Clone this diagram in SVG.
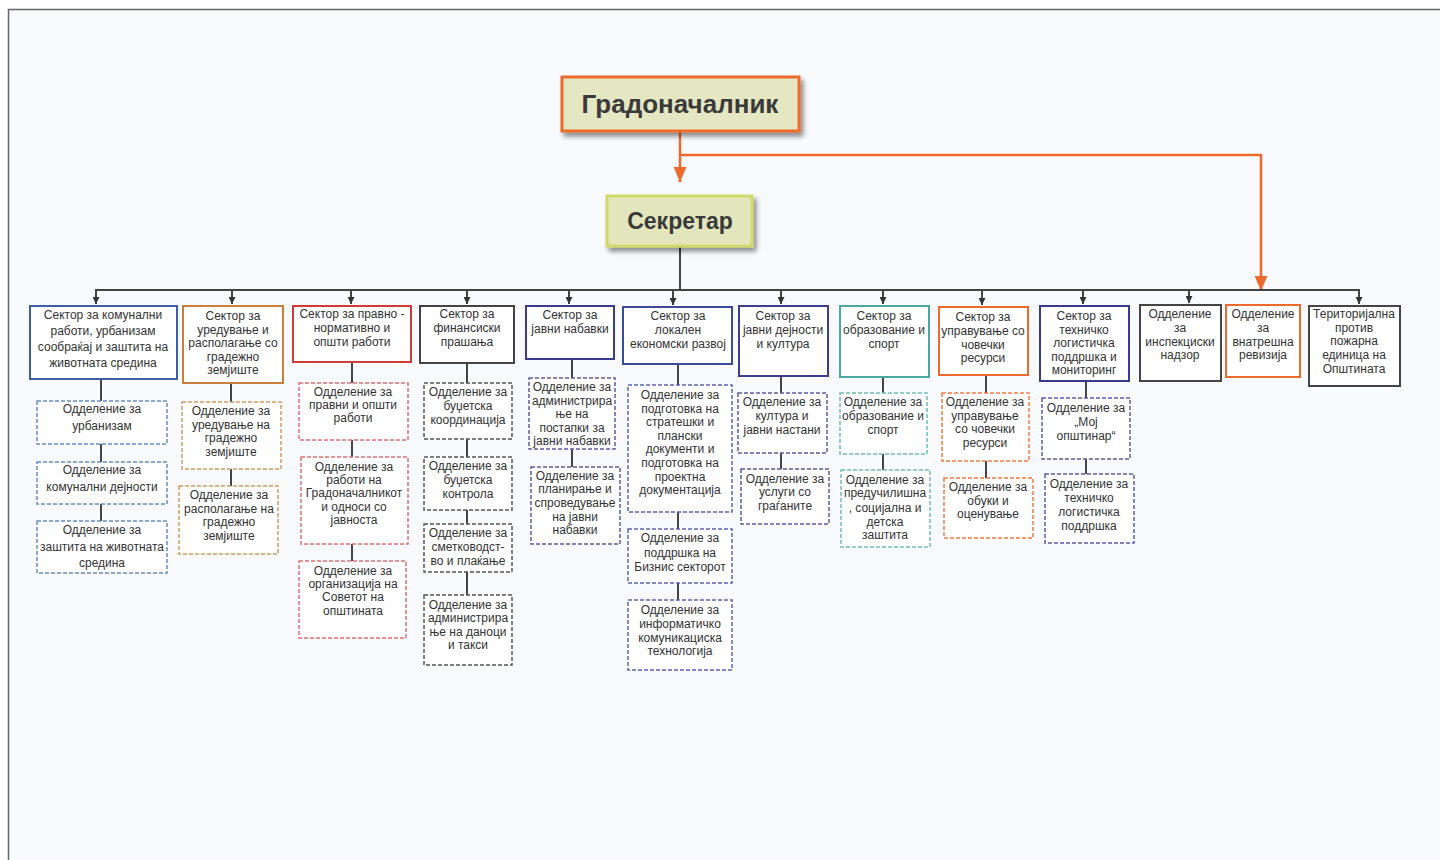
<svg xmlns="http://www.w3.org/2000/svg" width="1440" height="860" viewBox="0 0 1440 860">
<defs>
<style>
text{font-family:"Liberation Sans",Arial,sans-serif;font-size:12px;fill:#333;text-anchor:middle}
.big{font-weight:bold;fill:#3a3a3a}
.sec{fill:#fff;stroke-width:2}
.dep{fill:#fff;stroke-width:1.5;stroke-dasharray:4 2}
.ln{stroke:#444;stroke-width:2;fill:none}
.or{stroke:#ec6a2c;stroke-width:2.5;fill:none}
</style>
<marker id="ab" viewBox="0 0 10 10" refX="5" refY="10" markerWidth="7" markerHeight="7" markerUnits="userSpaceOnUse"><path d="M0,0 L10,0 L5,10 z" fill="#333"/></marker>
<marker id="ao" viewBox="0 0 12 14" refX="6" refY="14" markerWidth="13" markerHeight="15" markerUnits="userSpaceOnUse"><path d="M0,0 L12,0 L6,14 z" fill="#ec6a2c"/></marker>
<filter id="sh" x="-10%" y="-20%" width="130%" height="160%"><feGaussianBlur in="SourceAlpha" stdDeviation="2.5"/><feOffset dx="3" dy="4"/><feComponentTransfer><feFuncA type="linear" slope="0.45"/></feComponentTransfer><feMerge><feMergeNode/><feMergeNode in="SourceGraphic"/></feMerge></filter>
</defs>
<rect x="0" y="0" width="1440" height="860" fill="#fff"/>
<rect x="8.5" y="9.5" width="1440" height="860" fill="#f9fafd" stroke="#666" stroke-width="1.5"/>

<g id="connectors">
<path class="or" d="M680,131 V182"/>
<path class="or" d="M680,155 H1261 V290"/>
<path class="or" d="M680,180 V182" marker-end="url(#ao)"/>
<path class="or" d="M1261,288 V291" marker-end="url(#ao)"/>
<path class="ln" d="M680,246 V290 M95,290 H1360"/>
<g class="ln" marker-end="url(#ab)">
<path d="M96,290 V304"/><path d="M232,290 V304"/><path d="M351,290 V304"/><path d="M467,290 V304"/><path d="M569,290 V304"/><path d="M673,290 V305"/><path d="M781,290 V304"/><path d="M883,290 V304"/><path d="M982,290 V305"/><path d="M1083,290 V304"/><path d="M1189,290 V303"/><path d="M1359,290 V304"/>
</g>
<path class="ln" d="M101,379 V401 M101,444 V462 M101,504 V521"/>
<path class="ln" d="M231,383 V402 M231,469 V486"/>
<path class="ln" d="M352,362 V383 M352,440 V457 M352,544 V561"/>
<path class="ln" d="M467,363 V383 M467,439 V457 M467,510 V524 M467,572 V595"/>
<path class="ln" d="M572,359 V378 M572,449 V467"/>
<path class="ln" d="M678,364 V385 M678,512 V529 M678,583 V600"/>
<path class="ln" d="M781,376 V393 M781,453 V469"/>
<path class="ln" d="M883,377 V393 M883,454 V470"/>
<path class="ln" d="M986,375 V393 M986,461 V478"/>
<path class="ln" d="M1086,381 V398 M1086,459 V474"/>
</g>

<g id="gradonacalnik"><rect x="562" y="77" width="237" height="54" fill="#e5e6c2" stroke="#ec6a2c" stroke-width="3" filter="url(#sh)"/><text class="big" x="680" y="113" style="font-size:26px">Градоначалник</text></g>
<g id="sekretar"><rect x="607" y="196" width="145" height="50" fill="#e3e6bd" stroke="#cfd96a" stroke-width="3" filter="url(#sh)"/><text class="big" x="680" y="229" style="font-size:23px">Секретар</text></g>

<g id="s1"><rect class="sec" x="30" y="306" width="147" height="73" stroke="#3d5fa8"/><text><tspan x="103" y="319">Сектор за комунални</tspan><tspan x="103" y="335">работи, урбанизам</tspan><tspan x="103" y="351">сообраќај и заштита на</tspan><tspan x="103" y="367">животната средина</tspan></text></g>
<g id="s2"><rect class="sec" x="183" y="306" width="100" height="77" stroke="#c9803f"/><text><tspan x="233" y="320">Сектор за</tspan><tspan x="233" y="333.5">уредување и</tspan><tspan x="233" y="347">располагање со</tspan><tspan x="233" y="360.5">градежно</tspan><tspan x="233" y="374">земјиште</tspan></text></g>
<g id="s3"><rect class="sec" x="293" y="306" width="118" height="56" stroke="#d03a3a"/><text><tspan x="352" y="318">Сектор за правно -</tspan><tspan x="352" y="332">нормативно и</tspan><tspan x="352" y="346">општи работи</tspan></text></g>
<g id="s4"><rect class="sec" x="420" y="306" width="94" height="57" stroke="#444"/><text><tspan x="467" y="318">Сектор за</tspan><tspan x="467" y="332">финансиски</tspan><tspan x="467" y="346">прашања</tspan></text></g>
<g id="s5"><rect class="sec" x="526" y="306" width="88" height="53" stroke="#3b3c8a"/><text><tspan x="570" y="319">Сектор за</tspan><tspan x="570" y="333">јавни набавки</tspan></text></g>
<g id="s6"><rect class="sec" x="623" y="307" width="109" height="57" stroke="#3b4a9a"/><text><tspan x="678" y="320">Сектор за</tspan><tspan x="678" y="334">локален</tspan><tspan x="678" y="348">економски развој</tspan></text></g>
<g id="s7"><rect class="sec" x="739" y="306" width="89" height="70" stroke="#3d3d8f"/><text><tspan x="783" y="320">Сектор за</tspan><tspan x="783" y="334">јавни дејности</tspan><tspan x="783" y="348">и култура</tspan></text></g>
<g id="s8"><rect class="sec" x="840" y="306" width="89" height="71" stroke="#4aa8a0"/><text><tspan x="884" y="320">Сектор за</tspan><tspan x="884" y="334">образование и</tspan><tspan x="884" y="348">спорт</tspan></text></g>
<g id="s9"><rect class="sec" x="939" y="307" width="89" height="68" stroke="#ec6a2c"/><text><tspan x="983" y="321">Сектор за</tspan><tspan x="983" y="335">управување со</tspan><tspan x="983" y="349">човечки</tspan><tspan x="983" y="362">ресурси</tspan></text></g>
<g id="s10"><rect class="sec" x="1040" y="306" width="89" height="75" stroke="#3a3a8a"/><text><tspan x="1084" y="320">Сектор за</tspan><tspan x="1084" y="333.5">техничко</tspan><tspan x="1084" y="347">логистичка</tspan><tspan x="1084" y="360.5">поддршка и</tspan><tspan x="1084" y="374">мониторинг</tspan></text></g>
<g id="s11"><rect class="sec" x="1140" y="305" width="81" height="76" stroke="#444"/><text><tspan x="1180" y="318">Одделение</tspan><tspan x="1180" y="332">за</tspan><tspan x="1180" y="346">инспекциски</tspan><tspan x="1180" y="359">надзор</tspan></text></g>
<g id="s12"><rect class="sec" x="1226" y="305" width="74" height="72" stroke="#ec6a2c"/><text><tspan x="1263" y="318">Одделение</tspan><tspan x="1263" y="332">за</tspan><tspan x="1263" y="346">внатрешна</tspan><tspan x="1263" y="359">ревизија</tspan></text></g>
<g id="s13"><rect class="sec" x="1309" y="306" width="91" height="80" stroke="#444"/><text><tspan x="1354" y="318">Територијална</tspan><tspan x="1354" y="332">против</tspan><tspan x="1354" y="345">пожарна</tspan><tspan x="1354" y="359">единица на</tspan><tspan x="1354" y="373">Општината</tspan></text></g>

<g id="d1a"><rect class="dep" x="37" y="401" width="130" height="43" stroke="#6a8cc8"/><text><tspan x="102" y="413">Одделение за</tspan><tspan x="102" y="430">урбанизам</tspan></text></g>
<g id="d1b"><rect class="dep" x="37" y="462" width="130" height="42" stroke="#6a8cc8"/><text><tspan x="102" y="474">Одделение за</tspan><tspan x="102" y="491">комунални дејности</tspan></text></g>
<g id="d1c"><rect class="dep" x="37" y="521" width="130" height="52" stroke="#6a8cc8"/><text><tspan x="102" y="534">Одделение за</tspan><tspan x="102" y="551">заштита на животната</tspan><tspan x="102" y="567">средина</tspan></text></g>

<g id="d2a"><rect class="dep" x="182" y="402" width="99" height="67" stroke="#d49a60"/><text><tspan x="231" y="415">Одделение за</tspan><tspan x="231" y="428.5">уредување на</tspan><tspan x="231" y="442">градежно</tspan><tspan x="231" y="455.5">земјиште</tspan></text></g>
<g id="d2b"><rect class="dep" x="179" y="486" width="99" height="68" stroke="#d49a60"/><text><tspan x="229" y="499">Одделение за</tspan><tspan x="229" y="512.5">располагање на</tspan><tspan x="229" y="526">градежно</tspan><tspan x="229" y="539.5">земјиште</tspan></text></g>

<g id="d3a"><rect class="dep" x="299" y="383" width="109" height="57" stroke="#e07070"/><text><tspan x="353" y="396">Одделение за</tspan><tspan x="353" y="409">правни и општи</tspan><tspan x="353" y="422">работи</tspan></text></g>
<g id="d3b"><rect class="dep" x="301" y="457" width="107" height="87" stroke="#e07070"/><text><tspan x="354" y="471">Одделение за</tspan><tspan x="354" y="484">работи на</tspan><tspan x="354" y="497">Градоначалникот</tspan><tspan x="354" y="511">и односи со</tspan><tspan x="354" y="524">јавноста</tspan></text></g>
<g id="d3c"><rect class="dep" x="299" y="561" width="107" height="77" stroke="#e07070"/><text><tspan x="353" y="575">Одделение за</tspan><tspan x="353" y="588">организација на</tspan><tspan x="353" y="601">Советот на</tspan><tspan x="353" y="615">општината</tspan></text></g>

<g id="d4a"><rect class="dep" x="424" y="383" width="88" height="56" stroke="#555"/><text><tspan x="468" y="396">Одделение за</tspan><tspan x="468" y="410">буџетска</tspan><tspan x="468" y="424">координација</tspan></text></g>
<g id="d4b"><rect class="dep" x="424" y="457" width="88" height="53" stroke="#555"/><text><tspan x="468" y="470">Одделение за</tspan><tspan x="468" y="484">буџетска</tspan><tspan x="468" y="498">контрола</tspan></text></g>
<g id="d4c"><rect class="dep" x="424" y="524" width="88" height="48" stroke="#555"/><text><tspan x="468" y="537">Одделение за</tspan><tspan x="468" y="551">сметководст-</tspan><tspan x="468" y="565">во и плаќање</tspan></text></g>
<g id="d4d"><rect class="dep" x="424" y="595" width="88" height="70" stroke="#555"/><text><tspan x="468" y="609">Одделение за</tspan><tspan x="468" y="622">администрира</tspan><tspan x="468" y="636">ње на даноци</tspan><tspan x="468" y="649">и такси</tspan></text></g>

<g id="d5a"><rect class="dep" x="529" y="378" width="86" height="71" stroke="#5c5ca8"/><text><tspan x="572" y="391">Одделение за</tspan><tspan x="572" y="404.5">администрира</tspan><tspan x="572" y="418">ње на</tspan><tspan x="572" y="431.5">постапки за</tspan><tspan x="572" y="445">јавни набавки</tspan></text></g>
<g id="d5b"><rect class="dep" x="531" y="467" width="89" height="77" stroke="#5c5ca8"/><text><tspan x="575" y="480">Одделение за</tspan><tspan x="575" y="493">планирање и</tspan><tspan x="575" y="507">спроведување</tspan><tspan x="575" y="521">на јавни</tspan><tspan x="575" y="534">набавки</tspan></text></g>

<g id="d6a"><rect class="dep" x="628" y="385" width="104" height="127" stroke="#5a66b0"/><text><tspan x="680" y="399">Одделение за</tspan><tspan x="680" y="412.6">подготовка на</tspan><tspan x="680" y="426.2">стратешки и</tspan><tspan x="680" y="439.8">плански</tspan><tspan x="680" y="453.4">документи и</tspan><tspan x="680" y="467">подготовка на</tspan><tspan x="680" y="480.6">проектна</tspan><tspan x="680" y="494.2">документација</tspan></text></g>
<g id="d6b"><rect class="dep" x="628" y="529" width="104" height="54" stroke="#5a66b0"/><text><tspan x="680" y="542">Одделение за</tspan><tspan x="680" y="556.5">поддршка на</tspan><tspan x="680" y="571">Бизнис секторот</tspan></text></g>
<g id="d6c"><rect class="dep" x="628" y="600" width="104" height="70" stroke="#5a66b0"/><text><tspan x="680" y="614">Одделение за</tspan><tspan x="680" y="628">информатичко</tspan><tspan x="680" y="642">комуникациска</tspan><tspan x="680" y="655">технологија</tspan></text></g>

<g id="d7a"><rect class="dep" x="738" y="393" width="89" height="60" stroke="#5c5ca0"/><text><tspan x="782" y="406">Одделение за</tspan><tspan x="782" y="420">култура и</tspan><tspan x="782" y="434">јавни настани</tspan></text></g>
<g id="d7b"><rect class="dep" x="741" y="469" width="88" height="55" stroke="#5c5ca0"/><text><tspan x="785" y="483">Одделение за</tspan><tspan x="785" y="496">услуги со</tspan><tspan x="785" y="510">граѓаните</tspan></text></g>

<g id="d8a"><rect class="dep" x="840" y="393" width="87" height="61" stroke="#6fbfb5"/><text><tspan x="883" y="406">Одделение за</tspan><tspan x="883" y="420">образование и</tspan><tspan x="883" y="434">спорт</tspan></text></g>
<g id="d8b"><rect class="dep" x="841" y="470" width="89" height="77" stroke="#6fbfb5"/><text><tspan x="885" y="484">Одделение за</tspan><tspan x="885" y="497">предучилишна</tspan><tspan x="885" y="512">, социјална и</tspan><tspan x="885" y="526">детска</tspan><tspan x="885" y="539">заштита</tspan></text></g>

<g id="d9a"><rect class="dep" x="942" y="393" width="87" height="68" stroke="#ef7b43"/><text><tspan x="985" y="406">Одделение за</tspan><tspan x="985" y="420">управување</tspan><tspan x="985" y="433">со човечки</tspan><tspan x="985" y="447">ресурси</tspan></text></g>
<g id="d9b"><rect class="dep" x="944" y="478" width="89" height="60" stroke="#ef7b43"/><text><tspan x="988" y="491">Одделение за</tspan><tspan x="988" y="505">обуки и</tspan><tspan x="988" y="518">оценување</tspan></text></g>

<g id="d10a"><rect class="dep" x="1042" y="398" width="88" height="61" stroke="#5c5ca8"/><text><tspan x="1086" y="412">Одделение за</tspan><tspan x="1086" y="426">„Мој</tspan><tspan x="1086" y="440">општинар“</tspan></text></g>
<g id="d10b"><rect class="dep" x="1045" y="474" width="89" height="69" stroke="#5c5ca8"/><text><tspan x="1089" y="488">Одделение за</tspan><tspan x="1089" y="502">техничко</tspan><tspan x="1089" y="516">логистичка</tspan><tspan x="1089" y="530">поддршка</tspan></text></g>
</svg>
